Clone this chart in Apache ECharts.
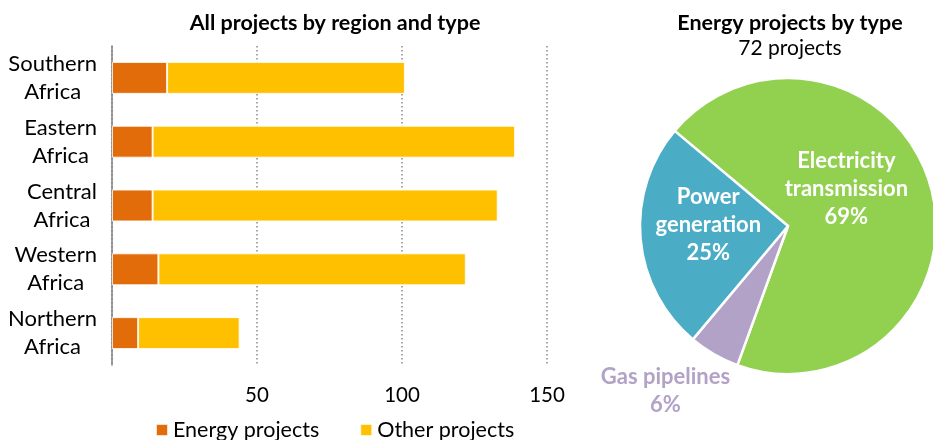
<!DOCTYPE html>
<html>
<head>
<meta charset="utf-8">
<script src="https://cdn.jsdelivr.net/npm/echarts@6/dist/echarts.min.js"></script>
<style>html,body{margin:0;padding:0;background:#fff}#c{width:933px;height:440px}</style>
</head>
<body>
<div id="c"></div>
<script>
const regions = ['Southern\nAfrica', 'Eastern\nAfrica', 'Central\nAfrica', 'Western\nAfrica', 'Northern\nAfrica'];
const energyProjects = [19, 14, 14, 16, 9];
const otherProjects = [82, 125, 119, 106, 35];
const xTicks = [50, 100, 150];
const pieNames = ['Electricity\ntransmission', 'Gas pipelines', 'Power\ngeneration'];
const pieValues = [50, 4, 18];
const totalEnergy = 72;

const FONT = 'Lato';
const pieColors = ['#92D050', '#B3A2C7', '#4BACC6'];
const pieLabelColors = ['#ffffff', '#B3A2C7', '#ffffff'];
const pieLabelOffsets = [[-16, -17], [-84, 98], [-3, -8]];

const chart = echarts.init(document.getElementById('c'));
chart.setOption({
  animation: false,
  textStyle: { fontFamily: FONT },
  title: [
    { text: 'All projects by region and type', left: 330, top: 7, textAlign: 'center',
      textStyle: { fontFamily: FONT, fontSize: 21.5, fontWeight: 'bold', color: '#000' } },
    { text: 'Energy projects by type', subtext: totalEnergy + ' projects', left: 785, top: 7, textAlign: 'center', itemGap: 4,
      textStyle: { fontFamily: FONT, fontSize: 21.5, fontWeight: 'bold', color: '#000' },
      subtextStyle: { fontFamily: FONT, fontSize: 21, color: '#000' } }
  ],
  legend: {
    data: ['Energy projects', 'Other projects'],
    left: 150, top: 414, itemWidth: 12, itemHeight: 12, itemGap: 40,
    icon: 'rect',
    textStyle: { fontFamily: FONT, fontSize: 21.5, color: '#000' }
  },
  grid: { left: 112, right: 386, top: 46, bottom: 75, containLabel: false },
  xAxis: {
    type: 'value', min: 0, max: 150, interval: 50,
    axisLine: { show: false }, axisTick: { show: false },
    axisLabel: { showMinLabel: false, margin: 20, fontFamily: FONT, fontSize: 20.5, color: '#000',
      formatter: v => xTicks.includes(v) ? String(v) : '' },
    splitLine: { show: true, lineStyle: { color: '#8a8a8a', width: 1.5, type: [1.5, 2.5] } }
  },
  yAxis: {
    type: 'category', data: regions, inverse: true,
    axisLine: { show: true, lineStyle: { color: '#808080', width: 1.5 } },
    axisTick: { show: false },
    axisLabel: {
      margin: 15, align: 'right', fontFamily: FONT, fontSize: 22, color: '#000', lineHeight: 28,
      formatter: v => v.split('\n').map(s => '{a|' + s + '}').join('\n'),
      rich: { a: { align: 'center', fontFamily: FONT, fontSize: 22, color: '#000', lineHeight: 28 } }
    }
  },
  series: [
    { name: 'Energy projects', type: 'bar', stack: 'all', data: energyProjects, barWidth: '50%',
      itemStyle: { color: '#E36C0A', borderColor: 'rgba(255,255,255,0.8)', borderWidth: 1 } },
    { name: 'Other projects', type: 'bar', stack: 'all', data: otherProjects, barWidth: '50%',
      itemStyle: { color: '#FFC000', borderColor: 'rgba(255,255,255,0.8)', borderWidth: 1 } },
    { name: 'Energy projects by type', type: 'pie', center: [788, 226], radius: 148,
      startAngle: 140, clockwise: true, percentPrecision: 0,
      itemStyle: { borderColor: '#fff', borderWidth: 2.5 },
      label: { position: 'inside', formatter: '{b}\n{d}%', fontFamily: FONT, fontSize: 22, fontWeight: 'bold', lineHeight: 28 },
      labelLine: { show: false },
      labelLayout: p => ({ dx: pieLabelOffsets[p.dataIndex][0], dy: pieLabelOffsets[p.dataIndex][1] }),
      emphasis: { disabled: true },
      data: pieNames.map((n, i) => ({ name: n, value: pieValues[i],
        itemStyle: { color: pieColors[i] }, label: { color: pieLabelColors[i] } }))
    }
  ]
});
</script>
</body>
</html>
